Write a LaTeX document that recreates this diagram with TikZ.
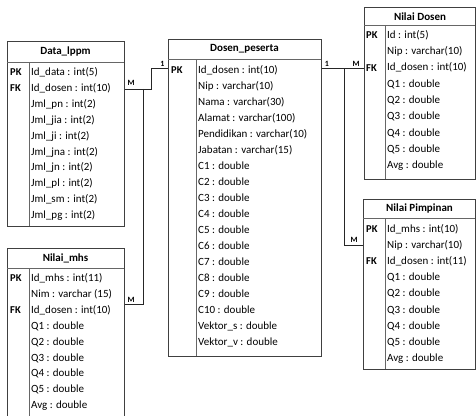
\documentclass[tikz,border=0pt]{standalone}
\usepackage{fontspec}
\setmainfont{Carlito}
\begin{document}
\begin{tikzpicture}[x=1pt,y=-1pt,
  tbl/.style={draw=black!75, line width=0.7pt, inner sep=0pt, anchor=north west, fill=white},
  sep/.style={draw=black!60, line width=0.6pt},
  ttl/.style={font=\bfseries\fontsize{11}{13}\selectfont, inner sep=0pt, text=black},
  fld/.style={font=\fontsize{11}{13}\selectfont, anchor=west, inner sep=0pt, text height=7.5pt, text depth=2.5pt, text=black},
  key/.style={font=\bfseries\fontsize{10.5}{13}\selectfont, anchor=west, inner sep=0pt, text height=7.5pt, text depth=2.5pt, text=black},
  card/.style={font=\bfseries\fontsize{8}{9}\selectfont, inner sep=0pt, text=black},
  conn/.style={draw=black!85, line width=0.7pt}]
\useasboundingbox (0,0) rectangle (476,415);

% ---------- Data_lppm ----------
\node[tbl, minimum width=117pt, minimum height=185pt] (lppm) at (7,41) {};
\draw[sep] (7,62) -- (124,62);
\draw[sep] (29,62) -- (29,226);
\node[ttl] (lppmT) at (65.5,51.5) {Data\_lppm};
\node[key] (lppmPK) at (10,73) {PK};
\node[key] (lppmFK) at (10,88.5) {FK};
\foreach \t [count=\i from 0] in {Id\_data : int(5), Id\_dosen : int(10), Jml\_pn : int(2), Jml\_jia : int(2), Jml\_ji : int(2), Jml\_jna : int(2), Jml\_jn : int(2), Jml\_pl : int(2), Jml\_sm : int(2), Jml\_pg : int(2)}
  \node[fld] (lppm\i) at (31,73+15.9*\i) {\t};

% ---------- Nilai_mhs ----------
\node[tbl, minimum width=117pt, minimum height=180pt] (mhs) at (7,248) {};
\draw[sep] (7,268) -- (124,268);
\draw[sep] (29,268) -- (29,428);
\node[ttl] (mhsT) at (65.5,258) {Nilai\_mhs};
\node[key] (mhsPK) at (10,279) {PK};
\node[key] (mhsFK) at (10,311) {FK};
\foreach \t [count=\i from 0] in {Id\_mhs : int(11), Nim : varchar (15), Id\_dosen : int(10), Q1 : double, Q2 : double, Q3 : double, Q4 : double, Q5 : double, Avg : double}
  \node[fld] (mhs\i) at (31,279+15.9*\i) {\t};

% ---------- Dosen_peserta ----------
\node[tbl, minimum width=153pt, minimum height=317pt] (dosen) at (168,39) {};
\draw[sep] (168,59) -- (321,59);
\draw[sep] (196,59) -- (196,356);
\node[ttl] (dosenT) at (244.5,49) {Dosen\_peserta};
\node[key] (dosenPK) at (171,71) {PK};
\foreach \t [count=\i from 0] in {Id\_dosen : int(10), Nip : varchar(10), Nama : varchar(30), Alamat : varchar(100), Pendidikan : varchar(10), Jabatan : varchar(15), C1 : double, C2 : double, C3 : double, C4 : double, C5 : double, C6 : double, C7 : double, C8 : double, C9 : double, C10 : double, Vektor\_s : double, Vektor\_v : double}
  \node[fld] (dosen\i) at (198,71+16*\i) {\t};

% ---------- Nilai Dosen ----------
\node[tbl, minimum width=111pt, minimum height=172pt] (nd) at (364,7) {};
\draw[sep] (364,25) -- (475,25);
\draw[sep] (385,25) -- (385,179);
\node[ttl] (ndT) at (420,16.5) {Nilai Dosen};
\node[key] (ndPK) at (366,35.5) {PK};
\node[key] (ndFK) at (366,69) {FK};
\foreach \t [count=\i from 0] in {Id : int(5), Nip : varchar(10), Id\_dosen : int(10), Q1 : double, Q2 : double, Q3 : double, Q4 : double, Q5 : double, Avg : double}
  \node[fld] (nd\i) at (387,35.5+16.35*\i) {\t};

% ---------- Nilai Pimpinan ----------
\node[tbl, minimum width=112pt, minimum height=170pt] (np) at (363,199) {};
\draw[sep] (363,218) -- (475,218);
\draw[sep] (385,218) -- (385,369);
\node[ttl] (npT) at (419.5,208.5) {Nilai Pimpinan};
\node[key] (npPK) at (366,229.5) {PK};
\node[key] (npFK) at (366,262) {FK};
\foreach \t [count=\i from 0] in {Id\_mhs : int(10), Nip : varchar(10), Id\_dosen : int(11), Q1 : double, Q2 : double, Q3 : double, Q4 : double, Q5 : double, Avg : double}
  \node[fld] (np\i) at (387,229.5+16.2*\i) {\t};

% ---------- connectors ----------
\draw[conn] (lppm.east |- lppm1) -- ++(27,0) |- (dosen.west |- nd2);
\draw[conn] ([xshift=19pt]lppm.east |- lppm1) |- ([yshift=6pt]mhs.east |- mhs2);
\draw[conn] (dosen.east |- nd2) -- (nd.west |- nd2);
\draw[conn] ([xshift=23pt]dosen.east |- nd2) |- (np.west |- np1);

\node[card] (c1) at (131,82.5) {M};
\node[card] (c2) at (162.5,63.5) {1};
\node[card] (c3) at (131,299.5) {M};
\node[card] (c4) at (327,63.5) {1};
\node[card] (c5) at (356,63.5) {M};
\node[card] (c6) at (354,240) {M};
\end{tikzpicture}
\end{document}
